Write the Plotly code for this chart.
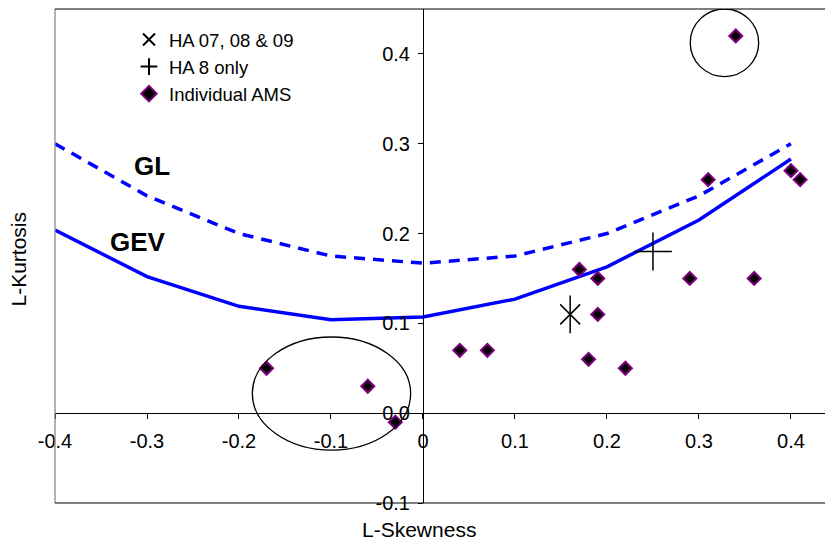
import plotly.graph_objects as go

# ---- data ----
skew_grid = [-0.4, -0.3, -0.2, -0.1, 0.0, 0.1, 0.2, 0.3, 0.4]
gev_kurt = [0.204, 0.152, 0.119, 0.104, 0.107, 0.127, 0.163, 0.215, 0.283]
gl_kurt = [0.300, 0.242, 0.200, 0.175, 0.167, 0.175, 0.200, 0.242, 0.300]

ams_skew = [0.34, 0.31, 0.40, 0.41, 0.17, 0.19, 0.29, 0.36, 0.19, 0.04, 0.07, 0.18, 0.22, -0.17, -0.06, -0.03]
ams_kurt = [0.42, 0.26, 0.27, 0.26, 0.16, 0.15, 0.15, 0.15, 0.11, 0.07, 0.07, 0.06, 0.05, 0.05, 0.03, -0.01]

ha_all_skew = [0.16]
ha_all_kurt = [0.11]
ha8_skew = [0.25]
ha8_kurt = [0.18]

x_tickvals = [-0.4, -0.3, -0.2, -0.1, 0.0, 0.1, 0.2, 0.3, 0.4]
x_ticktext = ["-0.4", "-0.3", "-0.2", "-0.1", "0", "0.1", "0.2", "0.3", "0.4"]
y_tickvals = [-0.1, 0.0, 0.1, 0.2, 0.3, 0.4]
y_ticktext = ["-0.1", "0.0", "0.1", "0.2", "0.3", "0.4"]

X_RANGE = [-0.4, 0.437]
Y_RANGE = [-0.1, 0.45]

FONT = "Liberation Sans, Arial, sans-serif"
BLUE = "#0000FF"

W, H = 825, 541
ML, MR, MT, MB = 55, 0, 9, 38
pw, ph = W - ML - MR, H - MT - MB


def px_x(px):
    return (px - ML) / pw


def px_y(py):
    return (H - MB - py) / ph


fig = go.Figure()

fig.add_trace(go.Scatter(x=skew_grid, y=gl_kurt, mode="lines", showlegend=False,
                         line=dict(color=BLUE, width=3.5, dash="11px,8px")))
fig.add_trace(go.Scatter(x=skew_grid, y=gev_kurt, mode="lines", showlegend=False,
                         line=dict(color=BLUE, width=3.5)))

fig.add_trace(go.Scatter(x=ha_all_skew, y=ha_all_kurt, mode="markers", name="HA 07, 08 & 09",
                         marker=dict(symbol="x-thin-open", size=20, color="black",
                                     line=dict(color="black", width=1.5))))
fig.add_trace(go.Scatter(x=ha_all_skew, y=ha_all_kurt, mode="markers", showlegend=False,
                         marker=dict(symbol="line-ns-open", size=27, color="black",
                                     line=dict(color="black", width=1.5))))
fig.add_trace(go.Scatter(x=ha8_skew, y=ha8_kurt, mode="markers", name="HA 8 only",
                         marker=dict(symbol="cross-thin-open", size=27, color="black",
                                     line=dict(color="black", width=1.5))))
fig.add_trace(go.Scatter(x=ams_skew, y=ams_kurt, mode="markers", name="Individual AMS",
                         marker=dict(symbol="diamond", size=10, color="black",
                                     line=dict(color="#800080", width=2))))

# ellipses around grouped points
fig.add_shape(type="circle", xref="x", yref="y", x0=0.2905, x1=0.3649, y0=0.3748, y1=0.450,
              line=dict(color="black", width=1.3))
fig.add_shape(type="circle", xref="x", yref="y", x0=-0.1855, x1=-0.0134, y0=-0.0411, y1=0.0848,
              line=dict(color="black", width=1.3))

# plot-area border
fig.add_shape(type="line", xref="paper", yref="paper", x0=0, x1=0, y0=0, y1=1,
              line=dict(color="#808080", width=1.2))
fig.add_shape(type="line", xref="paper", yref="paper", x0=0, x1=1.01, y0=1, y1=1,
              line=dict(color="black", width=1.2))
fig.add_shape(type="line", xref="paper", yref="paper", x0=0, x1=1.01, y0=0, y1=0,
              line=dict(color="black", width=1.2))


def label(text, px, py, size, angle=0):
    fig.add_annotation(x=px_x(px), y=px_y(py), xref="paper", yref="paper", text=text,
                       xanchor="center", yanchor="middle", textangle=angle,
                       showarrow=False, font=dict(family=FONT, size=size, color="black"))


label("<b>GL</b>", 152, 166, 26)
label("<b>GEV</b>", 137.5, 242, 26)
label("L-Skewness", 418.5, 529, 21)
label("L-Kurtosis", 17.5, 259, 21, angle=-90)

ypos_axis = (0 - X_RANGE[0]) / (X_RANGE[1] - X_RANGE[0])
xpos_axis = (0 - Y_RANGE[0]) / (Y_RANGE[1] - Y_RANGE[0])

fig.update_layout(
    width=W, height=H,
    margin=dict(l=ML, r=MR, t=MT, b=MB),
    paper_bgcolor="white", plot_bgcolor="white",
    font=dict(family=FONT, size=19, color="black"),
    showlegend=True,
    legend=dict(x=px_x(129), y=px_y(21), xanchor="left", yanchor="top",
                bgcolor="rgba(0,0,0,0)", font=dict(size=18.5), itemwidth=30,
                itemsizing="constant", tracegroupgap=0),
    xaxis=dict(range=X_RANGE, anchor="free", position=xpos_axis,
               showgrid=False, zeroline=False, showline=True, linecolor="black", linewidth=1,
               ticks="outside", ticklen=5, tickcolor="black", ticklabelstandoff=5,
               tickvals=x_tickvals, ticktext=x_ticktext, tickfont=dict(size=20)),
    yaxis=dict(range=Y_RANGE, anchor="free", position=ypos_axis,
               showgrid=False, zeroline=False, showline=True, linecolor="black", linewidth=1,
               ticks="outside", ticklen=5, tickcolor="black", ticklabelstandoff=4,
               tickvals=y_tickvals, ticktext=y_ticktext, tickfont=dict(size=20)),
)

fig.write_html("out.html", config={"displayModeBar": False},
               post_script="document.body.style.margin='0px';")
